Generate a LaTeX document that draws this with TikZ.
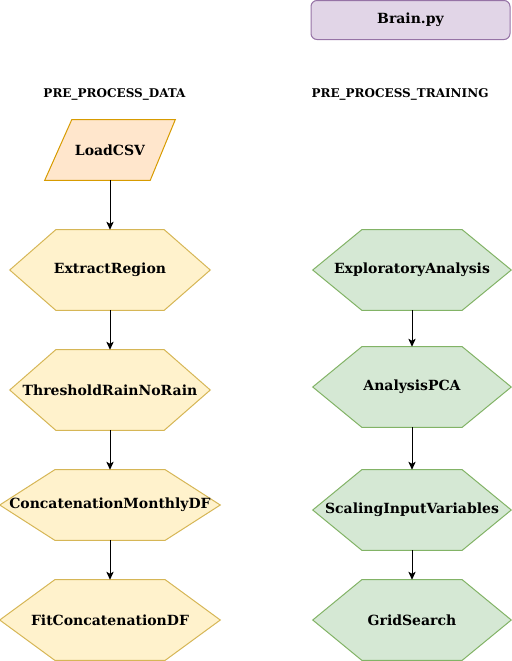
\documentclass[tikz,border=0pt]{standalone}
\usepackage{fontspec}
\setmainfont{DejaVu Serif}
\usetikzlibrary{arrows.meta,calc,backgrounds}
\definecolor{yfill}{HTML}{FFF2CC}
\definecolor{ydraw}{HTML}{D6B656}
\definecolor{ofill}{HTML}{FFE6CC}
\definecolor{odraw}{HTML}{D79B00}
\definecolor{gfill}{HTML}{D5E8D4}
\definecolor{gdraw}{HTML}{82B366}
\definecolor{pfill}{HTML}{E1D5E7}
\definecolor{pdraw}{HTML}{9673A6}
\tikzset{
  box/.style={inner sep=0pt, font=\bfseries\fontsize{10.5pt}{12pt}\selectfont, align=center},
  title/.style={inner sep=0pt, font=\bfseries\fontsize{9pt}{10pt}\selectfont},
  yshape/.style={fill=yfill, draw=ydraw, line width=0.75pt, line join=miter},
  oshape/.style={fill=ofill, draw=odraw, line width=0.75pt},
  gshape/.style={fill=gfill, draw=gdraw, line width=0.75pt},
  conn/.style={line width=0.75pt, -{Stealth[length=6pt,width=5.5pt,inset=1.5pt]}},
}
\newcommand{\hexagonof}[3]{%
  \begin{scope}[on background layer]
    \path[#3] (#1.west) -- ($(#1.north west)+(#2,0)$) -- ($(#1.north east)-(#2,0)$)
      -- (#1.east) -- ($(#1.south east)-(#2,0)$) -- ($(#1.south west)+(#2,0)$) -- cycle;
  \end{scope}}
\begin{document}
\begin{tikzpicture}[x=0.75pt,y=-0.75pt]
\useasboundingbox (0,0) rectangle (511,661);
% Brain.py
\node[box, fill=pfill, draw=pdraw, line width=0.75pt, rounded corners=4.5pt,
      minimum width=199*0.75pt, minimum height=39*0.75pt] (brain) at (410.5,20) {Brain.py};
% titles
\node[title] (tdata) at (114.5,94) {PRE\_PROCESS\_DATA};
\node[title] (ttrain) at (400,94) {PRE\_PROCESS\_TRAINING};
% left column
\node[box, minimum width=130*0.75pt, minimum height=60*0.75pt] (load) at (110,150) {LoadCSV};
\begin{scope}[on background layer]
  \path[oshape] ($(load.north west)+(27,0)$) -- (load.north east) -- ($(load.south east)-(25,0)$) -- (load.south west) -- cycle;
\end{scope}
\node[box, minimum width=200*0.75pt, minimum height=80*0.75pt] (er) at (110,270) {ExtractRegion};
\hexagonof{er}{46}{yshape}
\node[box, minimum width=200*0.75pt, minimum height=80*0.75pt] (tr) at (110,390) {ThresholdRainNoRain};
\hexagonof{tr}{46}{yshape}
\node[box, minimum width=220*0.75pt, minimum height=70*0.75pt] (cm) at (110,505) {ConcatenationMonthlyDF};
\hexagonof{cm}{55}{yshape}
\node[box, minimum width=220*0.75pt, minimum height=80*0.75pt] (fc) at (110,620) {FitConcatenationDF};
\hexagonof{fc}{55}{yshape}
% right column
\node[box, minimum width=198*0.75pt, minimum height=80*0.75pt] (ea) at (412,270) {ExploratoryAnalysis};
\hexagonof{ea}{49}{gshape}
\node[box, minimum width=198*0.75pt, minimum height=80*0.75pt] (pca) at (412,387) {AnalysisPCA};
\hexagonof{pca}{49}{gshape}
\node[box, minimum width=198*0.75pt, minimum height=80*0.75pt] (siv) at (412,510) {ScalingInputVariables};
\hexagonof{siv}{49}{gshape}
\node[box, minimum width=198*0.75pt, minimum height=80*0.75pt] (gs) at (412,620) {GridSearch};
\hexagonof{gs}{49}{gshape}
% connectors
\draw[conn] (load.south) -- (er.north);
\draw[conn] (er.south) -- (tr.north);
\draw[conn] (tr.south) -- (cm.north);
\draw[conn] (cm.south) -- (fc.north);
\draw[conn] (ea.south) -- (pca.north);
\draw[conn] (pca.south) -- (siv.north);
\draw[conn] (siv.south) -- (gs.north);
\end{tikzpicture}
\end{document}
